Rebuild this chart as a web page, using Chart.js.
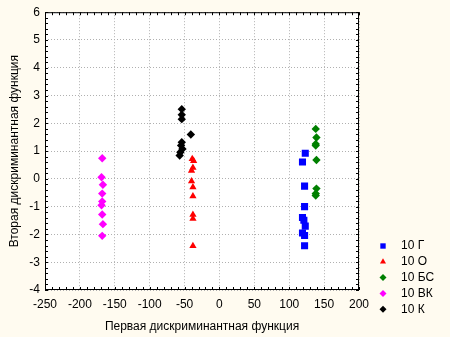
<!DOCTYPE html>
<html>
<head>
<meta charset="utf-8">
<script src="https://cdn.jsdelivr.net/npm/chart.js@4/dist/chart.umd.min.js"></script>
<style>
  body { margin: 0; background: #fffbf0; }
  #myChart { display: block; }
</style>
</head>
<body>
<canvas id="myChart" width="450" height="337"></canvas>
<script>
// group labels
var groupLabels = ["10 Г", "10 О", "10 БС", "10 ВК", "10 К"];

// first discriminant function (x) and second (y) per group
var gX = [123, 119, 122, 122, 119, 121, 123, 119, 122, 122];
var gY = [0.92, 0.61, -0.26, -1.00, -1.39, -1.49, -1.70, -1.95, -2.04, -2.41];

var oX = [-39, -37, -38, -40, -40, -38, -38, -38, -38, -38];
var oY = [0.72, 0.65, 0.40, 0.30, -0.08, -0.30, -0.62, -1.29, -1.43, -2.41];

var bsX = [138, 139, 138, 138, 139, 139, 138, 138];
var bsY = [1.80, 1.49, 1.26, 1.20, 0.68, -0.35, -0.53, -0.60];

var vkX = [-168, -169, -167, -168, -168, -169, -168, -167, -168];
var vkY = [0.74, 0.06, -0.21, -0.53, -0.81, -0.95, -1.28, -1.63, -2.05];

var kX = [-54, -54, -54, -41, -54, -55, -53, -56, -57];
var kY = [2.51, 2.31, 2.15, 1.60, 1.32, 1.20, 1.08, 0.96, 0.84];

// axis ranges
var xTicks = { min: -250, max: 200, step: 50 };
var yTicks = { min: -4, max: 6, step: 1 };

const FONT = "'Liberation Sans', Arial, sans-serif";

function toPoints(xs, ys) {
  return xs.map((x, i) => ({ x: x, y: ys[i] }));
}

function makeSet(i, xs, ys, color, style, r) {
  return {
    label: groupLabels[i],
    data: toPoints(xs, ys),
    backgroundColor: color,
    borderColor: color,
    borderWidth: 0,
    pointStyle: style,
    pointRadius: r,
    pointHoverRadius: r,
  };
}

// white plot background
const plotBg = {
  id: "plotBg",
  beforeDraw(chart) {
    const a = chart.chartArea;
    chart.ctx.save();
    chart.ctx.fillStyle = "#fff";
    chart.ctx.fillRect(a.left, a.top, a.right - a.left, a.bottom - a.top);
    chart.ctx.restore();
  }
};

// frame round the plot with small inward ticks
const frame = {
  id: "frame",
  afterDatasetsDraw(chart) {
    const c = chart.ctx;
    const a = chart.chartArea;
    const xs = chart.scales.x;
    const ys = chart.scales.y;
    c.save();
    c.strokeStyle = "#000";
    c.lineWidth = 1;
    c.strokeRect(a.left + 0.5, a.top + 0.5, a.right - a.left - 1, a.bottom - a.top - 1);
    c.beginPath();
    for (let v = xTicks.min; v <= xTicks.max; v += xTicks.step / 5) {
      const px = Math.round(xs.getPixelForValue(v)) + 0.5;
      c.moveTo(px, a.bottom);
      c.lineTo(px, a.bottom - 3);
      c.moveTo(px, a.top);
      c.lineTo(px, a.top + 3);
    }
    for (let k = 0; k <= 50; k++) {
      const v = yTicks.min + k * 0.2;
      const py = Math.round(ys.getPixelForValue(v)) + 0.5;
      c.moveTo(a.left, py);
      c.lineTo(a.left + 3, py);
      c.moveTo(a.right, py);
      c.lineTo(a.right - 3, py);
    }
    c.stroke();
    c.restore();
  }
};

// legend in the lower right corner
const sideLegend = {
  id: "sideLegend",
  afterDraw(chart) {
    const c = chart.ctx;
    c.save();
    c.font = "12px " + FONT;
    c.textBaseline = "middle";
    c.textAlign = "left";
    chart.data.datasets.forEach((ds, i) => {
      const y = 246 + i * 15.8;
      c.fillStyle = ds.backgroundColor;
      Chart.helpers.drawPoint(c, { pointStyle: ds.pointStyle, rotation: 0, radius: ds.pointStyle == "rect" ? 3.8 : 3.5, borderWidth: 0 }, 383, y);
      c.fillStyle = "#000";
      c.fillText(ds.label, 401, y);
    });
    c.restore();
  }
};

const ctx = document.getElementById("myChart").getContext("2d");

const myChart = new Chart(ctx, {
  type: "scatter",
  data: {
    datasets: [
      makeSet(0, gX, gY, "#0000ff", "rect", 5),
      makeSet(1, oX, oY, "#ff0000", "triangle", 4.2),
      makeSet(2, bsX, bsY, "#008000", "rectRot", 4.2),
      makeSet(3, vkX, vkY, "#ff00ff", "rectRot", 4.2),
      makeSet(4, kX, kY, "#000000", "rectRot", 4.2),
    ]
  },
  options: {
    responsive: false,
    animation: false,
    layout: { padding: { top: 11, right: 91, left: 0, bottom: 0 } },
    plugins: {
      legend: { display: false },
      tooltip: { enabled: false },
    },
    scales: {
      x: {
        type: "linear",
        min: xTicks.min,
        max: xTicks.max,
        afterFit(scale) { scale.height = 47; },
        ticks: {
          stepSize: xTicks.step,
          color: "#000",
          padding: 7,
          maxRotation: 0,
          font: { family: FONT, size: 12 },
        },
        grid: { color: "#b0b0b0", drawTicks: false, lineWidth: 1 },
        border: { display: false, dash: [1, 2] },
        title: {
          display: true,
          text: "Первая дискриминантная функция",
          color: "#000",
          padding: { top: 2, bottom: 3 },
          font: { family: FONT, size: 12 },
        },
      },
      y: {
        type: "linear",
        min: yTicks.min,
        max: yTicks.max,
        afterFit(scale) { scale.width = 45; },
        ticks: {
          stepSize: yTicks.step,
          color: "#000",
          padding: 5,
          font: { family: FONT, size: 12 },
        },
        grid: { color: "#b0b0b0", drawTicks: false, lineWidth: 1 },
        border: { display: false, dash: [1, 2] },
        title: {
          display: true,
          text: "Вторая дискриминантная функция",
          color: "#000",
          padding: { top: 7, bottom: 2 },
          font: { family: FONT, size: 12 },
        },
      },
    },
  },
  plugins: [plotBg, frame, sideLegend],
});
</script>
</body>
</html>
